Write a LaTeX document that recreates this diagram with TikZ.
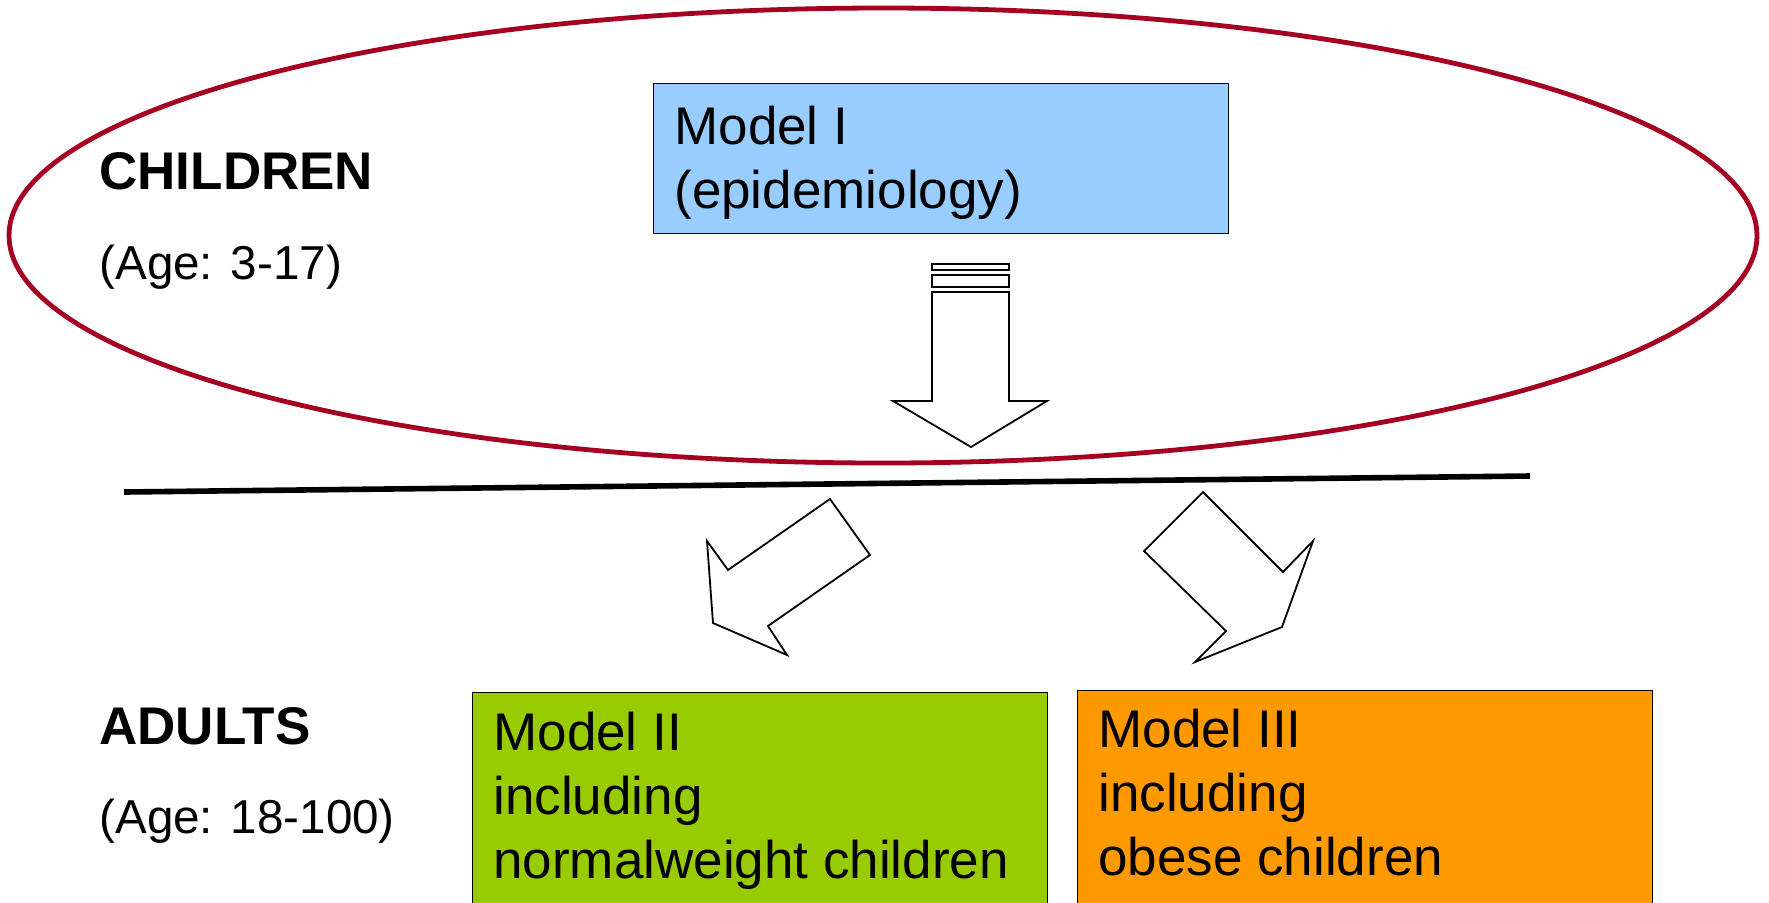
\documentclass[tikz,border=0pt]{standalone}
\usepackage{fontspec}
\setmainfont{Liberation Sans}
\usetikzlibrary{positioning}
\definecolor{ringred}{HTML}{A50021}
\definecolor{modelblue}{HTML}{99CCFF}
\definecolor{modelgreen}{HTML}{99CC00}
\definecolor{modelorange}{HTML}{FF9900}
\tikzset{
	modelbox/.style={draw=black, line width=0.6pt, rectangle, inner sep=0pt, anchor=north west},
	boxtext/.style={inner sep=0pt, anchor=base west, align=left, font=\fontsize{26.5}{32}\selectfont},
	agetitle/.style={inner sep=0pt, anchor=base west, font=\fontsize{26.5}{32}\selectfont\bfseries},
	agerange/.style={inner sep=0pt, anchor=base west, font=\fontsize{23.8}{30}\selectfont},
	blockarrow/.style={draw=black, fill=white, line width=0.9pt, line join=miter}
}
\begin{document}
\begin{tikzpicture}[x=0.5pt, y=-0.5pt]
	% canvas 1769 x 902 px
	\useasboundingbox (0,0) rectangle (1769,902);

	% children group
	\draw[ringred, line width=2.4pt] (883,235.5) ellipse [x radius=874, y radius=227.5];

	% models
	\node[modelbox, fill=modelblue, minimum width=575*0.5pt, minimum height=150*0.5pt] (m1) at (653,83) {};
	\node[modelbox, fill=modelgreen, minimum width=575*0.5pt, minimum height=260*0.5pt] (m2) at (472,692) {};
	\node[modelbox, fill=modelorange, minimum width=575*0.5pt, minimum height=260*0.5pt] (m3) at (1077,690) {};

	% base = last line
	\node[boxtext] (m1text) at (674,208) {Model I\\(epidemiology)};
	\node[boxtext] (m2text) at (493,878) {Model II\\including\\normalweight children};
	\node[boxtext] (m3text) at (1098,875) {Model III\\including\\obese children};

	% age groups
	\node[agetitle] (children) at (99,189) {CHILDREN};
	\node[agerange] (childage) at (99,279) {(Age: 3-17)};
	\node[agetitle] (adults) at (99,744) {ADULTS};
	\node[agerange] (adultage) at (99,833) {(Age: 18-100)};

	% border line
	\draw[line width=2.8pt] (124,492) -- (1530,476);

	% down arrow
	\draw[blockarrow] (932,264) rectangle (1009,270);
	\draw[blockarrow] (932,275) rectangle (1009,287);
	\draw[blockarrow] (932,292) -- (1009,292) -- (1009,401) -- (1047,401) -- (971,447)
		-- (893,401) -- (932,401) -- cycle;

	% arrow to model II
	\draw[blockarrow] (830,499) -- (870,555) -- (768,626) -- (787,655) -- (713,623)
		-- (707,541) -- (728,570) -- cycle;

	% arrow to model III
	\draw[blockarrow] (1203,492) -- (1144,551) -- (1226,631) -- (1195,662) -- (1282,627)
		-- (1313,541) -- (1283,572) -- cycle;
\end{tikzpicture}
\end{document}
